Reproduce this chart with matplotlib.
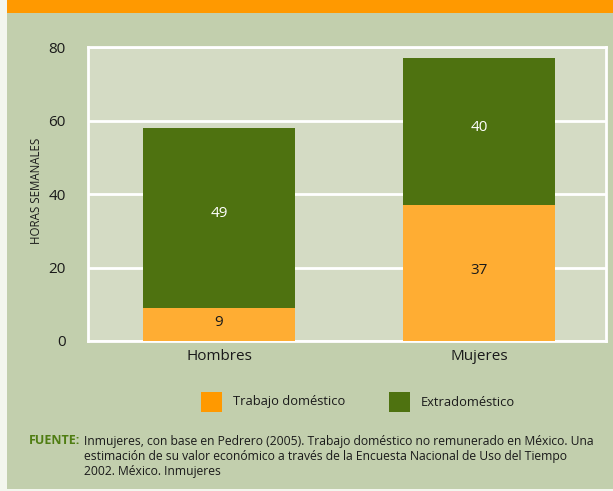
import matplotlib
matplotlib.use('Agg')
import matplotlib.pyplot as plt
from matplotlib.patches import Rectangle

plt.rcParams['font.family'] = ['Open Sans', 'DejaVu Sans']

# --- data ---
categorias = ['Hombres', 'Mujeres']
trabajo_domestico = [9, 37]
extradomestico = [49, 40]
serie_labels = ['Trabajo doméstico', 'Extradoméstico']
y_ticks = [0, 20, 40, 60, 80]

# colours
bg = '#c2cfad'
panel = '#d4dbc4'
naranja = '#ffad33'
naranja_leg = '#ff9900'
verde = '#4e7210'

W, H = 613, 491
fig = plt.figure(figsize=(W / 100, H / 100), dpi=100)
fig.patch.set_facecolor(bg)

# page margin strips + top orange band
fig.patches.append(Rectangle((0, 0), 7 / W, 1, transform=fig.transFigure,
                             facecolor='#f3f6ee', edgecolor='none', zorder=0))
fig.patches.append(Rectangle((0, 0), 1, 2 / H, transform=fig.transFigure,
                             facecolor='#f3f6ee', edgecolor='none', zorder=0))
fig.patches.append(Rectangle((7 / W, 1 - 13 / H), 1, 13 / H, transform=fig.transFigure,
                             facecolor='#ff9900', edgecolor='none', zorder=0))

ax = fig.add_axes([88 / W, 150 / H, 518 / W, 294 / H])
ax.set_facecolor(panel)
x = list(range(len(categorias)))

ax.bar(x, trabajo_domestico, width=0.585, color=naranja, zorder=3)
ax.bar(x, extradomestico, width=0.585, bottom=trabajo_domestico, color=verde, zorder=3)

for i in x:
    ax.annotate(str(trabajo_domestico[i]), (i, trabajo_domestico[i] / 2), xytext=(0, 1.5),
                textcoords='offset points', ha='center', va='center',
                fontsize=11, color='#1a1a1a', zorder=4)
    ax.annotate(str(extradomestico[i]), (i, trabajo_domestico[i] + extradomestico[i] / 2),
                xytext=(0, 3), textcoords='offset points',
                ha='center', va='center', fontsize=11, color='white', zorder=4)

ax.set_xlim(-0.504, 1.488)
ax.set_ylim(0, 80)
ax.set_yticks(y_ticks)
ax.set_xticks(x)
ax.set_xticklabels(categorias)
ax.tick_params(axis='both', length=0, labelsize=11, colors='#1a1a1a')
ax.tick_params(axis='y', pad=16)
ax.tick_params(axis='x', pad=6)
ax.grid(axis='y', color='white', linewidth=2)
ax.set_axisbelow(True)
for s in ax.spines.values():
    s.set_color('white')
    s.set_linewidth(2)

fig.text(37 / W, 1 - 191 / H, 'HORAS SEMANALES', rotation=90, ha='center', va='center',
         fontsize=8.3, color='#1a1a1a')

# legend
for xs, xt, col, lab in [(201, 233, naranja_leg, serie_labels[0]), (389, 421, verde, serie_labels[1])]:
    fig.patches.append(Rectangle((xs / W, 1 - 412 / H), 21 / W, 20 / H, transform=fig.transFigure,
                                 facecolor=col, edgecolor='none'))
    fig.text(xt / W, 1 - 402 / H, lab, ha='left', va='center', fontsize=9.3, color='#1a1a1a')

# source note
fig.text(29 / W, 1 - 441 / H, 'FUENTE:', ha='left', va='center', fontsize=9,
         fontweight='bold', color='#4f7d12')
nota = ['Inmujeres, con base en Pedrero (2005). Trabajo doméstico no remunerado en México. Una',
        'estimación de su valor económico a través de la Encuesta Nacional de Uso del Tiempo',
        '2002. México. Inmujeres']
for k, linea in enumerate(nota):
    fig.text(84 / W, 1 - (441 + 15.5 * k) / H, linea, ha='left', va='center', fontsize=8.7,
             color='#1a1a1a')

fig.savefig('out.png', dpi=100, facecolor=fig.get_facecolor())
